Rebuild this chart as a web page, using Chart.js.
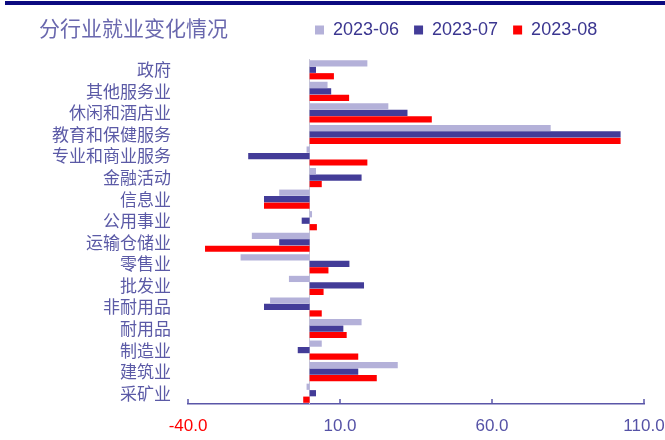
<!DOCTYPE html>
<html lang="zh">

<head>
  <meta charset="UTF-8">
  <title>分行业就业变化情况</title>
  <style>
    body { margin: 0; background: #fff; }
    .wrap { position: relative; width: 665px; height: 440px; }
    .topbar { position: absolute; left: 5px; top: 1px; width: 660px; height: 4px; background: #0c0a80; }
    .titulo { position: absolute; left: 39px; top: 16px; font-family: "Noto Sans CJK SC", sans-serif; font-size: 21px; line-height: 22px; color: #6a68ae; }
  </style>
</head>

<body>
  <div class="wrap">
    <canvas id="grafico" width="665" height="440"></canvas>
    <div class="topbar"></div>
    <div class="titulo">分行业就业变化情况</div>
  </div>
  <script src="https://cdn.jsdelivr.net/npm/chart.js"></script>
  <script>
    // categorias e series
    const categorias = ['政府', '其他服务业', '休闲和酒店业', '教育和保健服务', '专业和商业服务', '金融活动', '信息业', '公用事业',
      '运输仓储业', '零售业', '批发业', '非耐用品', '耐用品', '制造业', '建筑业', '采矿业'];
    const serie06 = [19.0, 5.9, 25.9, 79.3, -1.0, 2.1, -10.0, 0.8, -19.0, -22.7, -6.8, -13.0, 17.1, 4.0, 29.0, -1.0];
    const serie07 = [2.1, 7.1, 32.2, 102.3, -20.2, 17.1, -15.0, -2.6, -10.0, 13.1, 17.9, -15.0, 11.1, -3.9, 16.0, 2.1];
    const serie08 = [8.0, 13.0, 40.2, 102.3, 19.0, 4.0, -15.0, 2.4, -34.4, 6.2, 4.6, 4.0, 12.2, 16.0, 22.1, -2.1];
    const nomes = ['2023-06', '2023-07', '2023-08'];
    const eixoX = { min: -40, max: 110, passo: 50 };

    const cores = ['#b4b1d9', '#433c98', '#ff0000'];

    // legenda no lugar, linha do zero e marcas do eixo x para dentro
    const extras = {
      id: 'extras',
      afterLayout(chart) {
        const lg = chart.legend;
        const w = lg.right - lg.left;
        lg.left = 300;
        lg.right = lg.left + w;
        lg.top = 6;
      },
      beforeDatasetsDraw(chart) {
        const ctx = chart.ctx;
        const x = chart.scales.x;
        const area = chart.chartArea;
        const x0 = Math.round(x.getPixelForValue(0)) - 0.5;
        ctx.save();
        ctx.strokeStyle = '#c9c8d6';
        ctx.lineWidth = 1;
        ctx.beginPath();
        ctx.moveTo(x0, area.top);
        ctx.lineTo(x0, area.bottom);
        ctx.stroke();
        ctx.restore();
      },
      afterDraw(chart) {
        const ctx = chart.ctx;
        const x = chart.scales.x;
        const yb = chart.chartArea.bottom;
        ctx.save();
        ctx.strokeStyle = '#5a56a8';
        ctx.lineWidth = 1.5;
        x.ticks.forEach(t => {
          const px = x.getPixelForValue(t.value);
          ctx.beginPath();
          ctx.moveTo(px, yb);
          ctx.lineTo(px, yb - 5);
          ctx.stroke();
        });
        ctx.restore();
      }
    };

    new Chart(document.getElementById('grafico'), {
      type: 'bar',
      data: {
        labels: categorias,
        datasets: [serie06, serie07, serie08].map((d, i) => ({
          label: nomes[i],
          data: d,
          backgroundColor: cores[i],
          borderWidth: 0,
          categoryPercentage: 0.9,
          barPercentage: 0.96
        }))
      },
      options: {
        indexAxis: 'y',
        responsive: false,
        animation: false,
        layout: { padding: { left: 0, right: 0, top: 16, bottom: 0 } },
        plugins: {
          legend: {
            position: 'top',
            align: 'start',
            labels: {
              boxWidth: 9,
              boxHeight: 9,
              padding: 15,
              color: '#3b3690',
              font: { family: 'Liberation Sans', size: 18 }
            }
          },
          tooltip: { enabled: false }
        },
        scales: {
          x: {
            min: eixoX.min,
            max: eixoX.max,
            ticks: {
              stepSize: eixoX.passo,
              callback: v => v.toFixed(1),
              color: c => c.tick && c.tick.value === eixoX.min ? '#ff0000' : '#5552a6',
              font: { family: 'Liberation Sans', size: 17 },
              padding: 12,
              maxRotation: 0
            },
            grid: { display: false, drawTicks: false },
            border: { display: true, color: '#5a56a8', width: 1.5 },
            afterFit: s => { s.height = 36; s.paddingRight = 21; }
          },
          y: {
            ticks: {
              autoSkip: false,
              color: '#5b5aa6',
              font: { family: '"Noto Sans CJK SC"', size: 17 },
              padding: 17
            },
            grid: { display: false, drawTicks: false },
            border: { display: false },
            afterFit: s => { s.width = 188; }
          }
        }
      },
      plugins: [extras]
    });
  </script>
</body>

</html>
